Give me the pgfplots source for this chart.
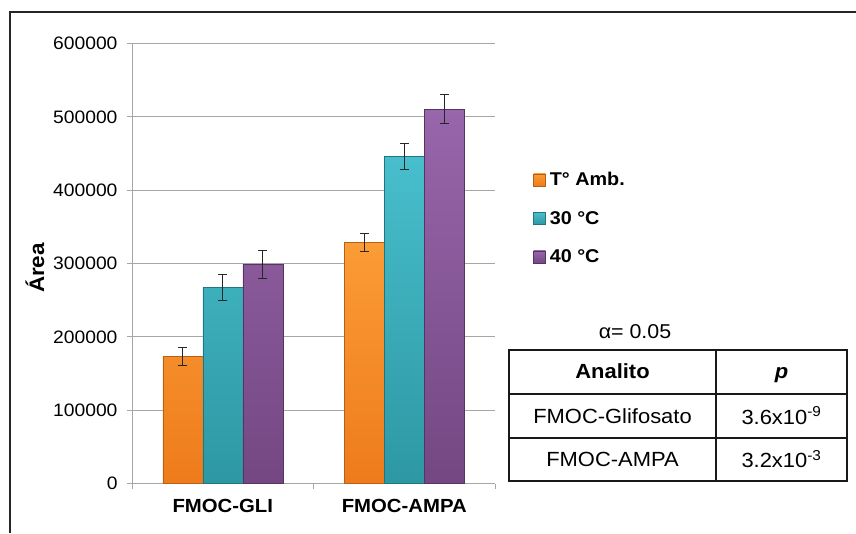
\documentclass[border=0pt]{standalone}
\usepackage{fontspec}
\setmainfont{Liberation Sans}[FakeStretch=1.07]
\usepackage{pgfplots}
\pgfplotsset{compat=1.18}
\definecolor{gridgray}{HTML}{A6A6A6}
\definecolor{orT}{HTML}{FB9C36}
\definecolor{orB}{HTML}{EE7B1C}
\definecolor{orE}{HTML}{B85F16}
\definecolor{teT}{HTML}{48BECC}
\definecolor{teB}{HTML}{2D98A3}
\definecolor{teE}{HTML}{217580}
\definecolor{puT}{HTML}{9866AB}
\definecolor{puB}{HTML}{744782}
\definecolor{puE}{HTML}{553362}
\begin{document}
\begin{tikzpicture}[x=1pt,y=1pt]
\useasboundingbox (0,0) rectangle (856,533);
\draw[line width=1.3pt, black!85] (10,0) -- (10,521) -- (857,521);
\begin{axis}[
  at={(132pt,49.5pt)}, anchor=south west,
  scale only axis, width=363pt, height=440pt,
  xmin=-0.5, xmax=1.5, ymin=0, ymax=600000,
  axis x line*=bottom, axis y line*=left,
  axis line style={draw=gridgray, line width=1pt},
  every tick/.style={gridgray, line width=1pt},
  tick align=outside, major tick length=5pt,
  ytick={0,100000,...,600000},
  ymajorgrids, grid style={gridgray, line width=1pt},
  xtick={-0.5,0.5,1.5}, xticklabels={,,},
  extra x ticks={0,1}, extra x tick labels={FMOC-GLI,FMOC-AMPA},
  extra x tick style={major tick length=0pt},
  xticklabel style={font=\bfseries\fontsize{19}{22}\selectfont, yshift=-12pt},
  scaled y ticks=false,
  /pgf/number format/assume math mode=true,
  yticklabel style={/pgf/number format/fixed, /pgf/number format/1000 sep={}, font=\fontsize{18}{21}\selectfont, xshift=-6pt},
  ybar=0pt, bar width=40pt,
  legend style={at={(axis description cs:1.105,0.603)}, anchor=west, draw=none, fill=none,
    font=\bfseries\fontsize{18.5}{21}\selectfont, row sep=20pt, inner sep=0pt,
    /tikz/every odd column/.append style={column sep=2pt}},
  legend cell align=left,
  mylegend/.style={legend image code/.code={\draw[##1, line width=0.5pt] (0pt,-6pt) rectangle (12pt,6pt);}},
  error bars/y dir=both, error bars/y explicit,
  error bars/error bar style={line width=0.9pt, black!85},
  error bars/error mark options={rotate=90, mark size=4.7pt, line width=0.9pt, black!85},
]
\addplot[mylegend, top color=orT, bottom color=orB, draw=orE, line width=0.4pt] coordinates {(0,173300) +- (0,12300) (1,328600) +- (0,12000)};
\addplot[mylegend, top color=teT, bottom color=teB, draw=teE, line width=0.4pt] coordinates {(0,267300) +- (0,17700) (1,446200) +- (0,17700)};
\addplot[mylegend, top color=puT, bottom color=puB, draw=puE, line width=0.4pt] coordinates {(0,298700) +- (0,19700) (1,510600) +- (0,19500)};
\legend{T° Amb.,30 °C,40 °C}
\end{axis}
\node[rotate=90, font=\bfseries\fontsize{21}{24}\selectfont] at (35,265) {Área};
% table
\node[font=\fontsize{20}{24}\selectfont] at (635,201) {α= 0.05};
\draw[line width=1.6pt, black!90] (509,182.7) rectangle (847,52);
\draw[line width=1.6pt, black!90] (716,182.7) -- (716,52);
\draw[line width=1.6pt, black!90] (509,139.3) -- (847,139.3);
\draw[line width=1.6pt, black!90] (509,95.3) -- (847,95.3);
\node[font=\bfseries\fontsize{20.5}{24}\selectfont, anchor=base] at (612.5,154) {Analito};
\node[font=\bfseries\itshape\fontsize{20.5}{24}\selectfont, anchor=base] at (781.5,154) {p};
\node[font=\fontsize{20.5}{24}\selectfont] at (612.5,117.3) {FMOC-Glifosato};
\node[font=\fontsize{20.5}{24}\selectfont] at (781.5,117.3) {3.6x10\textsuperscript{-9}};
\node[font=\fontsize{20.5}{24}\selectfont] at (612.5,73.7) {FMOC-AMPA};
\node[font=\fontsize{20.5}{24}\selectfont] at (781.5,73.7) {3.2x10\textsuperscript{-3}};
\end{tikzpicture}
\end{document}
